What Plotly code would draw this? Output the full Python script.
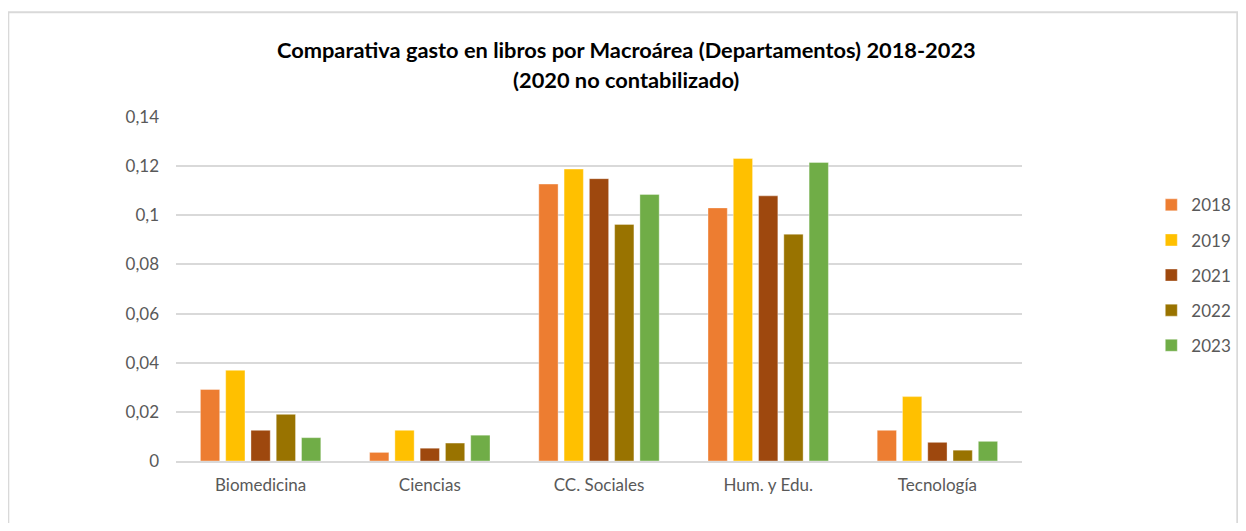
import plotly.graph_objects as go

categories = ["Biomedicina", "Ciencias", "CC. Sociales", "Hum. y Edu.", "Tecnología"]
years = ["2018", "2019", "2021", "2022", "2023"]
v2018 = [0.0291, 0.0035, 0.1127, 0.1030, 0.0125]
v2019 = [0.0369, 0.0125, 0.1188, 0.1231, 0.0262]
v2021 = [0.0125, 0.0052, 0.1149, 0.1079, 0.0076]
v2022 = [0.0190, 0.0073, 0.0963, 0.0923, 0.0044]
v2023 = [0.0095, 0.0105, 0.1085, 0.1215, 0.0080]
y_tick_vals = [0, 0.02, 0.04, 0.06, 0.08, 0.10, 0.12, 0.14]
y_tick_text = ["0", "0,02", "0,04", "0,06", "0,08", "0,1", "0,12", "0,14"]
title_line1 = "Comparativa gasto en libros por Macroárea (Departamentos) 2018-2023"
title_line2 = "(2020 no contabilizado)"

series = [v2018, v2019, v2021, v2022, v2023]
colors = ["#ED7D31", "#FFC000", "#9E480E", "#997300", "#70AD47"]

# page body has an 8px margin; work in screen pixels and convert
OFF = 8
W, H = 1230, 515
L = 175.7 - OFF
R = W - (1021.7 - OFF)
T = 116.7 - OFF
B = H - (460.7 - OFF)
pw, ph = W - L - R, H - T - B

def px_x(sx):
    return (sx - OFF - L) / pw

def px_y(sy):
    return (H - B - (sy - OFF)) / ph

fig = go.Figure()
for name, vals, col in zip(years, series, colors):
    fig.add_trace(go.Bar(
        x=categories, y=vals, name=name, legendgroup=name,
        marker=dict(color=col, line=dict(color="rgba(255,255,255,0.6)", width=0.6)),
    ))

FONT = "Lato, 'Open Sans', sans-serif"
tick_font = dict(family=FONT, size=17, color="#595959")
title_font = dict(family=FONT, size=21.8, color="#000000")

fig.update_layout(
    width=W, height=H,
    margin=dict(l=L, r=R, t=T, b=B, autoexpand=False),
    paper_bgcolor="white", plot_bgcolor="white",
    barmode="group", bargap=0.253, bargroupgap=0.237,
    xaxis=dict(
        showgrid=False, showline=True, linecolor="#D9D9D9", linewidth=1.5,
        ticks="", tickfont=tick_font, ticklabelstandoff=8,
    ),
    yaxis=dict(
        range=[0, 0.14], tickvals=y_tick_vals, ticktext=y_tick_text,
        showgrid=True, gridcolor="#D9D9D9", gridwidth=1.5,
        zeroline=False, showline=False, ticks="",
        tickfont=tick_font, ticklabelstandoff=16,
    ),
    legend=dict(
        x=px_x(1151), xanchor="left", y=px_y(187), yanchor="top",
        font=tick_font, tracegroupgap=10, itemwidth=30,
        bgcolor="rgba(0,0,0,0)",
    ),
    showlegend=True,
    annotations=[
        dict(text="<b>" + title_line1 + "</b>", xref="paper", yref="paper",
             x=px_x(626), y=px_y(49), xanchor="center", yanchor="middle",
             showarrow=False, font=title_font),
        dict(text="<b>" + title_line2 + "</b>", xref="paper", yref="paper",
             x=px_x(626), y=px_y(79), xanchor="center", yanchor="middle",
             showarrow=False, font=title_font),
    ],
    shapes=[dict(
        type="rect", xref="paper", yref="paper",
        x0=px_x(8), x1=px_x(1237), y0=px_y(560), y1=px_y(12),
        line=dict(color="#D9D9D9", width=2), fillcolor="rgba(0,0,0,0)", layer="below",
    )],
)

fig.write_html("out.html")
